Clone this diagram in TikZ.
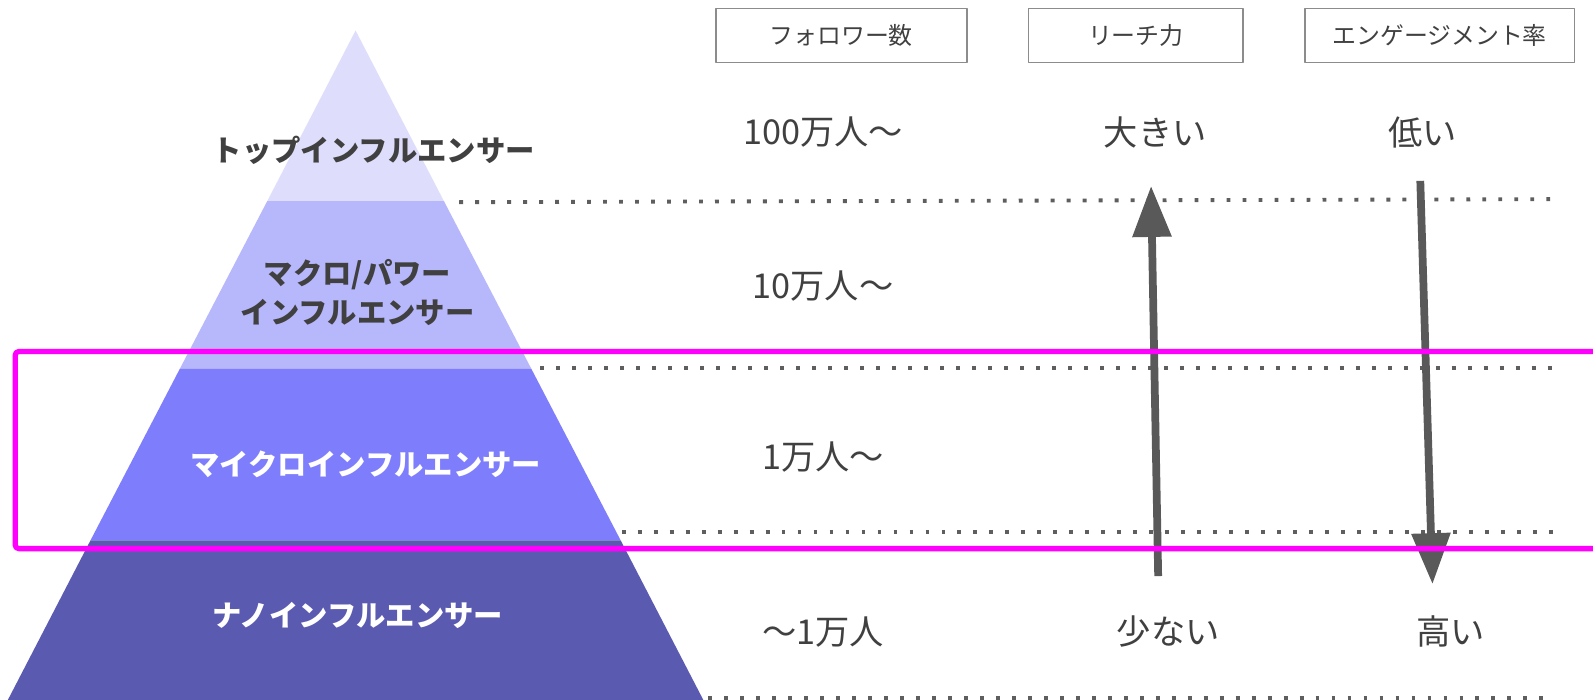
\documentclass[tikz,border=0pt]{standalone}
\usepackage{fontspec}
\setmainfont{Noto Sans CJK JP}
\usetikzlibrary{arrows.meta}
\definecolor{topcol}{HTML}{DEDEFC}
\definecolor{macrocol}{HTML}{B7B7FC}
\definecolor{microcol}{HTML}{7E7EFD}
\definecolor{nanocol}{HTML}{5A5AB1}
\definecolor{txtgray}{HTML}{404040}
\definecolor{arrowgray}{HTML}{595959}
\definecolor{dotgray}{HTML}{5E5E5E}
\definecolor{boxgray}{HTML}{8C8C8C}
\definecolor{hilite}{RGB}{255,0,255}

\begin{document}
\begin{tikzpicture}[line cap=round,line join=round,x=0.02032cm,y=-0.02032cm,
    pyrlabel/.style={font=\bfseries\fontsize{16.7}{22}\selectfont,align=center},
    headbox/.style={draw=boxgray,line width=1pt,minimum height=1.08cm,text=txtgray,font=\fontsize{13.6}{16}\selectfont},
    valtext/.style={text=txtgray,font=\fontsize{19.5}{23}\selectfont},
    dotline/.style={dotgray,line width=2.2pt,line cap=butt,dash pattern=on 2.2pt off 6.9pt},
    bigarrow/.style={arrowgray,line width=4.4pt,line cap=butt,-{Triangle[width=0.75cm,length=1.02cm]}}]
        \useasboundingbox (0,0) rectangle (1568,689);
        \clip (0,0) rectangle (1568,689);
        % pyramid bands
        \fill [topcol] (350,30) -- (437,198) -- (263,198) -- cycle;
        \fill [macrocol] (263,198) -- (437,198) -- (523,363) -- (177,363) -- cycle;
        \fill [microcol] (177,363) -- (523,363) -- (611,532) -- (89,532) -- cycle;
        \fill [nanocol] (89,532) -- (611,532) -- (698,700) -- (2,700) -- cycle;
        \node [pyrlabel,text=txtgray] (ptop) at (368,148) {トップインフルエンサー};
        \node [pyrlabel,text=txtgray] (pmacro) at (352,288) {マクロ/パワー\\インフルエンサー};
        \node [pyrlabel,text=white] (pmicro) at (360,457) {マイクロインフルエンサー};
        \node [pyrlabel,text=white] (pnano) at (352,606) {ナノインフルエンサー};
        % level separators
        \draw [dotline] (452,199) -- (1530,196);
        \draw [dotline] (532,362) -- (1530,362);
        \draw [dotline] (612,524) -- (1535,524);
        \draw [dotline] (697,687) -- (1530,687);
        % column heads
        \node [headbox,minimum width=5.02cm] (hfol) at (828,35) {フォロワー数};
        \node [headbox,minimum width=4.29cm] (hreach) at (1118,35) {リーチ力};
        \node [headbox,minimum width=5.4cm] (heng) at (1417,35) {エンゲージメント率};
        % values
        \node [valtext] (f1) at (810,130) {100万人〜};
        \node [valtext] (f2) at (810,282) {10万人〜};
        \node [valtext] (f3) at (810,450) {1万人〜};
        \node [valtext] (f4) at (810,622) {〜1万人};
        \node [valtext] (rhigh) at (1137,130) {大きい};
        \node [valtext] (rlow) at (1150,622) {少ない};
        \node [valtext] (elow) at (1400,130) {低い};
        \node [valtext] (ehigh) at (1428,622) {高い};
        % trend arrows
        \coordinate (rfrom) at (1140,567);
        \coordinate (rto) at (1133,183);
        \coordinate (efrom) at (1398,178);
        \coordinate (eto) at (1410,575);
        \draw [bigarrow] (rfrom) -- (rto);
        \draw [bigarrow] (efrom) -- (eto);
        % highlight
        \draw [hilite,line width=3pt,rounded corners=2pt] (15,346) rectangle (1600,540);
\end{tikzpicture}
\end{document}
